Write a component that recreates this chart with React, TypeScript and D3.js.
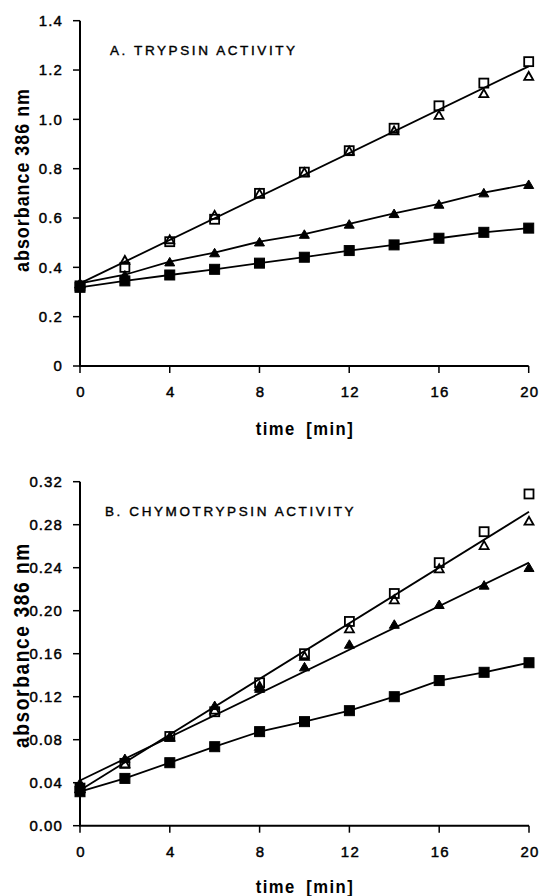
import React from "react";
import * as d3 from "d3";

const times = [0, 2, 4, 6, 8, 10, 12, 14, 16, 18, 20];

// Panel A: trypsin activity
const aOpenSquare = [0.325, 0.4, 0.504, 0.595, 0.7, 0.786, 0.873, 0.964, 1.055, 1.147, 1.234];
const aOpenTriangle = [0.335, 0.43, 0.514, 0.613, 0.7, 0.786, 0.873, 0.955, 1.018, 1.106, 1.176];
const aFilledTriangle = [0.335, 0.37, 0.423, 0.46, 0.504, 0.535, 0.576, 0.619, 0.657, 0.703, 0.737];
const aFilledSquare = [0.319, 0.345, 0.369, 0.392, 0.417, 0.441, 0.468, 0.491, 0.518, 0.542, 0.559];
const aOpenFit = [0.335, 1.215]; // at t = 0 and t = 20

// Panel B: chymotrypsin activity
const bOpenSquare = [0.035, 0.058, 0.083, 0.106, 0.133, 0.16, 0.19, 0.216, 0.2447, 0.2735, 0.3086];
const bOpenTriangle = [0.035, 0.058, 0.083, 0.108, 0.13, 0.158, 0.1836, 0.2106, 0.2394, 0.261, 0.2837];
const bFilledTriangle = [0.04, 0.0627, 0.083, 0.112, 0.128, 0.148, 0.169, 0.1876, 0.206, 0.224, 0.2404];
const bFilledSquare = [0.0316, 0.044, 0.0586, 0.0735, 0.0875, 0.0968, 0.107, 0.12, 0.135, 0.1427, 0.1516];
const bOpenFit = [0.033, 0.292];
const bFilledTriFit = [0.042, 0.2447];

const xTicks = [0, 4, 8, 12, 16, 20];
const aYTicks = [0, 0.2, 0.4, 0.6, 0.8, 1.0, 1.2, 1.4];
const aYLabels = ["0", "0.2", "0.4", "0.6", "0.8", "1.0", "1.2", "1.4"];
const bYTicks = [0, 0.04, 0.08, 0.12, 0.16, 0.2, 0.24, 0.28, 0.32];
const bYLabels = ["0.00", "0.04", "0.08", "0.12", "0.16", "0.20", "0.24", "0.28", "0.32"];

const FONT = "'Liberation Sans', Arial, sans-serif";

type Scale = d3.ScaleLinear<number, number>;

function Square({ x, y, filled }: { x: number; y: number; filled: boolean }) {
  const s = filled ? 10 : 9;
  return (
    <rect
      x={x - s / 2}
      y={y - s / 2}
      width={s}
      height={s}
      fill={filled ? "#000" : "none"}
      stroke="#000"
      strokeWidth={filled ? 1 : 1.8}
    />
  );
}

function Triangle({ x, y, filled }: { x: number; y: number; filled: boolean }) {
  const w = filled ? 10 : 9;
  const h = filled ? 8.5 : 8;
  const p = `M${x - w / 2},${y + h / 2}L${x + w / 2},${y + h / 2}L${x},${y - h / 2}Z`;
  return <path d={p} fill={filled ? "#000" : "none"} stroke="#000" strokeWidth={filled ? 1 : 1.8} strokeLinejoin="miter" />;
}

function Panel({
  x,
  y,
  yTicks,
  yLabels,
  title,
  titleX,
  titleY,
  series,
  fits,
  yLabelCenter,
  yLabelSize,
  yLabelSpacing,
  xLabelY,
}: {
  x: Scale;
  y: Scale;
  yTicks: number[];
  yLabels: string[];
  title: string;
  titleX: number;
  titleY: number;
  series: { values: number[]; shape: "sq" | "tri"; filled: boolean; connect: boolean }[];
  fits: number[][];
  yLabelCenter: number;
  yLabelSize: number;
  yLabelSpacing: number;
  xLabelY: number;
}) {
  const [x0, x1] = x.range();
  const [y0, y1] = y.range();
  const line = d3
    .line<number>()
    .x((_, i) => x(times[i]))
    .y((d) => y(d));
  return (
    <g>
      {fits.map((f, i) => (
        <line key={"f" + i} x1={x(0)} y1={y(f[0])} x2={x(20)} y2={y(f[1])} stroke="#000" strokeWidth={1.8} />
      ))}
      {series
        .filter((s) => s.connect)
        .map((s, i) => (
          <path key={"l" + i} d={line(s.values) || ""} fill="none" stroke="#000" strokeWidth={1.8} />
        ))}
      {series.map((s, si) =>
        s.values.map((v, i) =>
          s.shape === "sq" ? (
            <Square key={si + "-" + i} x={x(times[i])} y={y(v)} filled={s.filled} />
          ) : (
            <Triangle key={si + "-" + i} x={x(times[i])} y={y(v)} filled={s.filled} />
          )
        )
      )}
      <line x1={x0} y1={y0} x2={x0} y2={y1} stroke="#000" strokeWidth={2} />
      <line x1={x0 - 1} y1={y0} x2={x1} y2={y0} stroke="#000" strokeWidth={2} />
      {yTicks.map((t, i) => (
        <g key={"yt" + i}>
          <line x1={x0 - 7} x2={x0} y1={y(t)} y2={y(t)} stroke="#000" strokeWidth={1.5} />
          <text
            x={x0 - 17}
            y={y(t)}
            dy="0.36em"
            textAnchor="end"
            fontFamily={FONT}
            fontSize={15}
            letterSpacing={1.1}
            fill="#000"
            stroke="#000"
            strokeWidth={0.45}
          >
            {yLabels[i]}
          </text>
        </g>
      ))}
      {xTicks.map((t, i) => (
        <g key={"xt" + i}>
          <line x1={x(t)} x2={x(t)} y1={y0} y2={y0 + 7} stroke="#000" strokeWidth={1.5} />
          <text
            x={x(t) + 1}
            y={y0 + 26}
            dy="0.36em"
            textAnchor="middle"
            fontFamily={FONT}
            fontSize={15}
            letterSpacing={1.2}
            fill="#000"
            stroke="#000"
            strokeWidth={0.45}
          >
            {t}
          </text>
        </g>
      ))}
      <text
        x={titleX}
        y={titleY}
        dy="0.36em"
        fontFamily={FONT}
        fontSize={13.5}
        letterSpacing={2.6}
        fill="#000"
        stroke="#000"
        strokeWidth={0.4}
      >
        {title}
      </text>
      <text
        transform={`translate(21,${yLabelCenter}) rotate(-90) scale(0.85,1)`}
        textAnchor="middle"
        dy="0.36em"
        fontFamily={FONT}
        fontWeight="bold"
        fontSize={yLabelSize}
        letterSpacing={yLabelSpacing}
        fill="#000"
      >
        absorbance 386 nm
      </text>
      <text
        transform={`translate(305,${xLabelY}) scale(0.9,1)`}
        dy="0.36em"
        textAnchor="middle"
        fontFamily={FONT}
        fontWeight="bold"
        fontSize={18.5}
        letterSpacing={1.6}
        wordSpacing={5}
        fill="#000"
      >
        time [min]
      </text>
    </g>
  );
}

export default function App() {
  const xA = d3.scaleLinear().domain([0, 20]).range([80, 528.7]);
  const yA = d3.scaleLinear().domain([0, 1.4]).range([366, 20.7]);
  const xB = d3.scaleLinear().domain([0, 20]).range([80, 529]);
  const yB = d3.scaleLinear().domain([0, 0.32]).range([825.7, 481.7]);

  return (
    <div style={{ position: "absolute", left: 0, top: 0, width: 541, height: 896, background: "#fff" }}>
      <svg width={541} height={896} style={{ display: "block" }}>
        <rect width={541} height={896} fill="#fff" />
        <Panel
          x={xA}
          y={yA}
          yTicks={aYTicks}
          yLabels={aYLabels}
          title="A. TRYPSIN ACTIVITY"
          titleX={110}
          titleY={50}
          series={[
            { values: aOpenSquare, shape: "sq", filled: false, connect: false },
            { values: aOpenTriangle, shape: "tri", filled: false, connect: false },
            { values: aFilledTriangle, shape: "tri", filled: true, connect: true },
            { values: aFilledSquare, shape: "sq", filled: true, connect: true },
          ]}
          fits={[aOpenFit]}
          yLabelCenter={180}
          yLabelSize={21}
          yLabelSpacing={1.2}
          xLabelY={428}
        />
        <Panel
          x={xB}
          y={yB}
          yTicks={bYTicks}
          yLabels={bYLabels}
          title="B. CHYMOTRYPSIN ACTIVITY"
          titleX={105}
          titleY={511}
          series={[
            { values: bOpenSquare, shape: "sq", filled: false, connect: false },
            { values: bOpenTriangle, shape: "tri", filled: false, connect: false },
            { values: bFilledTriangle, shape: "tri", filled: true, connect: false },
            { values: bFilledSquare, shape: "sq", filled: true, connect: true },
          ]}
          fits={[bOpenFit, bFilledTriFit]}
          yLabelCenter={645}
          yLabelSize={22.5}
          yLabelSpacing={1.9}
          xLabelY={886}
        />
      </svg>
    </div>
  );
}
